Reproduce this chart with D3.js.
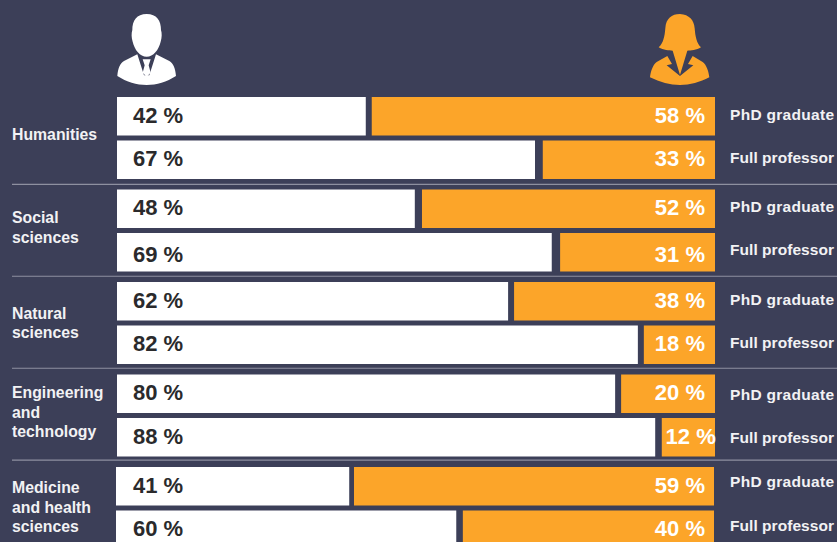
<!DOCTYPE html>
<html>
<head>
<meta charset="utf-8">
<script src="https://cdn.jsdelivr.net/npm/d3@7"></script>
<style>
  html, body { margin: 0; padding: 0; background: #3c3f58; overflow: hidden; }
  svg { display: block; }
  text { font-family: "Liberation Sans", Arial, sans-serif; font-weight: bold; }
</style>
</head>
<body>
<svg width="837" height="542"></svg>
<script>
// categories, each label broken the way the picture breaks it
var categories = ["Humanities", "Social sciences", "Natural sciences", "Engineering and technology", "Medicine and health sciences"];
var categoryLines = [["Humanities"], ["Social", "sciences"], ["Natural", "sciences"], ["Engineering", "and", "technology"], ["Medicine", "and health", "sciences"]];
var stages = ["PhD graduate", "Full professor"];

// printed percentages, [PhD graduate, Full professor] per category
var menLabels = [[42, 67], [48, 69], [62, 82], [80, 88], [41, 60]];
var womenLabels = [[58, 33], [52, 31], [38, 18], [20, 12], [59, 40]];

// the bars are not drawn to the printed numbers, so these are the lengths read off the picture (in % of the full bar)
var menBars = [[41.6, 69.9], [49.8, 72.7], [65.4, 87.1], [83.3, 90], [39, 56.9]];
var womenBars = [[57.4, 28.8], [49, 25.9], [33.6, 11.9], [15.7, 8.9], [60.2, 42]];

var white = "#ffffff", orange = "#fca529", rule = "#8e90a0";

var svg = d3.select("svg");

var x = d3.scaleLinear().domain([0, 100]).range([117, 715]);
// one band per category, two rows inside it
var y0 = d3.scaleBand().domain(categories).range([93.5, 556]);
var y1 = d3.scaleBand().domain(stages).range([3.5, 85.5]).paddingInner(0.115);
var yRule = d3.scalePoint().domain(categories.slice(1)).range([184.3, 460.2]);

var labelW = 50;

// small hand nudges, the labels in the picture are not quite regular
var nameNudge = [-4, -3, 0, -3.5, -1];
var stageNudge = [-0.5, -1.2, -0.5, 2.2, -3];

// divider lines between categories
svg.selectAll(".rule")
  .data(categories.slice(1))
  .enter().append("line")
  .attr("class", "rule")
  .attr("x1", 12).attr("x2", 837)
  .attr("y1", function (d) { return yRule(d); })
  .attr("y2", function (d) { return yRule(d); })
  .attr("stroke", rule)
  .attr("stroke-width", 1.2);

var group = svg.selectAll(".group")
  .data(categories)
  .enter().append("g")
  .attr("class", "group")
  .attr("transform", function (d, i) {
    // the bars of the last block sit one pixel further left in the picture
    return "translate(" + (i == 4 ? -1 : 0) + "," + y0(d) + ")";
  });

group.each(function (cat, i) {
  var g = d3.select(this);
  var back = i == 4 ? 1 : 0;
  stages.forEach(function (stage, j) {
    var top = y1(stage), h = y1.bandwidth();
    // second row of Social sciences prints lower than the others
    var mid = top + h / 2 + 6.5 + (i == 1 && j == 1 ? 3 : 0);
    var womenStart = x(100 - womenBars[i][j]);

    g.append("rect")
      .attr("x", x(0)).attr("y", top)
      .attr("width", x(menBars[i][j]) - x(0)).attr("height", h)
      .attr("fill", white);
    g.append("rect")
      .attr("x", womenStart).attr("y", top)
      .attr("width", x(100) - womenStart).attr("height", h)
      .attr("fill", orange);

    g.append("text")
      .attr("x", x(0) + 16 + back).attr("y", mid)
      .attr("font-size", 22).attr("fill", "#2a2a2c")
      .text(menLabels[i][j] + " %");
    g.append("text")
      .attr("x", Math.max(x(100) - 10, womenStart + 4 + labelW) + back).attr("y", mid)
      .attr("text-anchor", "end")
      .attr("font-size", 22).attr("fill", white)
      .text(womenLabels[i][j] + " %");

    g.append("text")
      .attr("x", 730 + back).attr("y", top + h / 2 + 4 + stageNudge[i])
      .attr("font-size", 15.5).attr("fill", "#f2f2f4")
      .attr("textLength", 104)
      .text(stage);
  });

  // category name, centred on the block
  var lines = categoryLines[i];
  lines.forEach(function (line, k) {
    g.append("text")
      .attr("x", 12 + back)
      .attr("y", 50 + nameNudge[i] + (k - (lines.length - 1) / 2) * 19.7)
      .attr("font-size", 15.8).attr("fill", "#f2f2f4")
      .text(line);
  });
});

// man icon, drawn in a 300 unit box
var man = svg.append("g").attr("transform", "translate(100,0) scale(0.3333)");
man.append("path").attr("fill", white)
  .attr("d", "M140 42C170 42 183 62 183 90C186 100 186 112 182 125C176 150 160 170 140 170C120 170 104 150 98 125C94 112 94 100 97 90C97 62 110 42 140 42Z");
man.append("path").attr("fill", white)
  .attr("d", "M112 163L72 183C60 190 54 205 52 228C80 246 110 255 140 255C170 255 200 246 228 228C226 205 220 190 208 183L168 163L148 226L140 226L132 226Z");
man.append("path").attr("fill", white)
  .attr("d", "M128 178L152 178L146 196L152 218L140 230L128 218L134 196Z");

// woman icon
var woman = svg.append("g").attr("transform", "translate(630,0) scale(0.3333)");
woman.append("path").attr("fill", orange)
  .attr("d", "M150 42C125 42 108 55 106 85C104 110 100 130 86 142C100 150 118 152 128 152L150 225L172 152C182 152 200 150 213 142C200 130 196 110 194 85C192 60 178 44 150 42Z");
woman.append("path").attr("fill", orange)
  .attr("d", "M112 168L80 186C68 195 62 215 60 232C90 247 120 255 150 255C180 255 210 247 238 232C236 215 230 195 218 186L188 168L174 192L190 196L150 228L110 196L126 192Z");

</script>
</body>
</html>
